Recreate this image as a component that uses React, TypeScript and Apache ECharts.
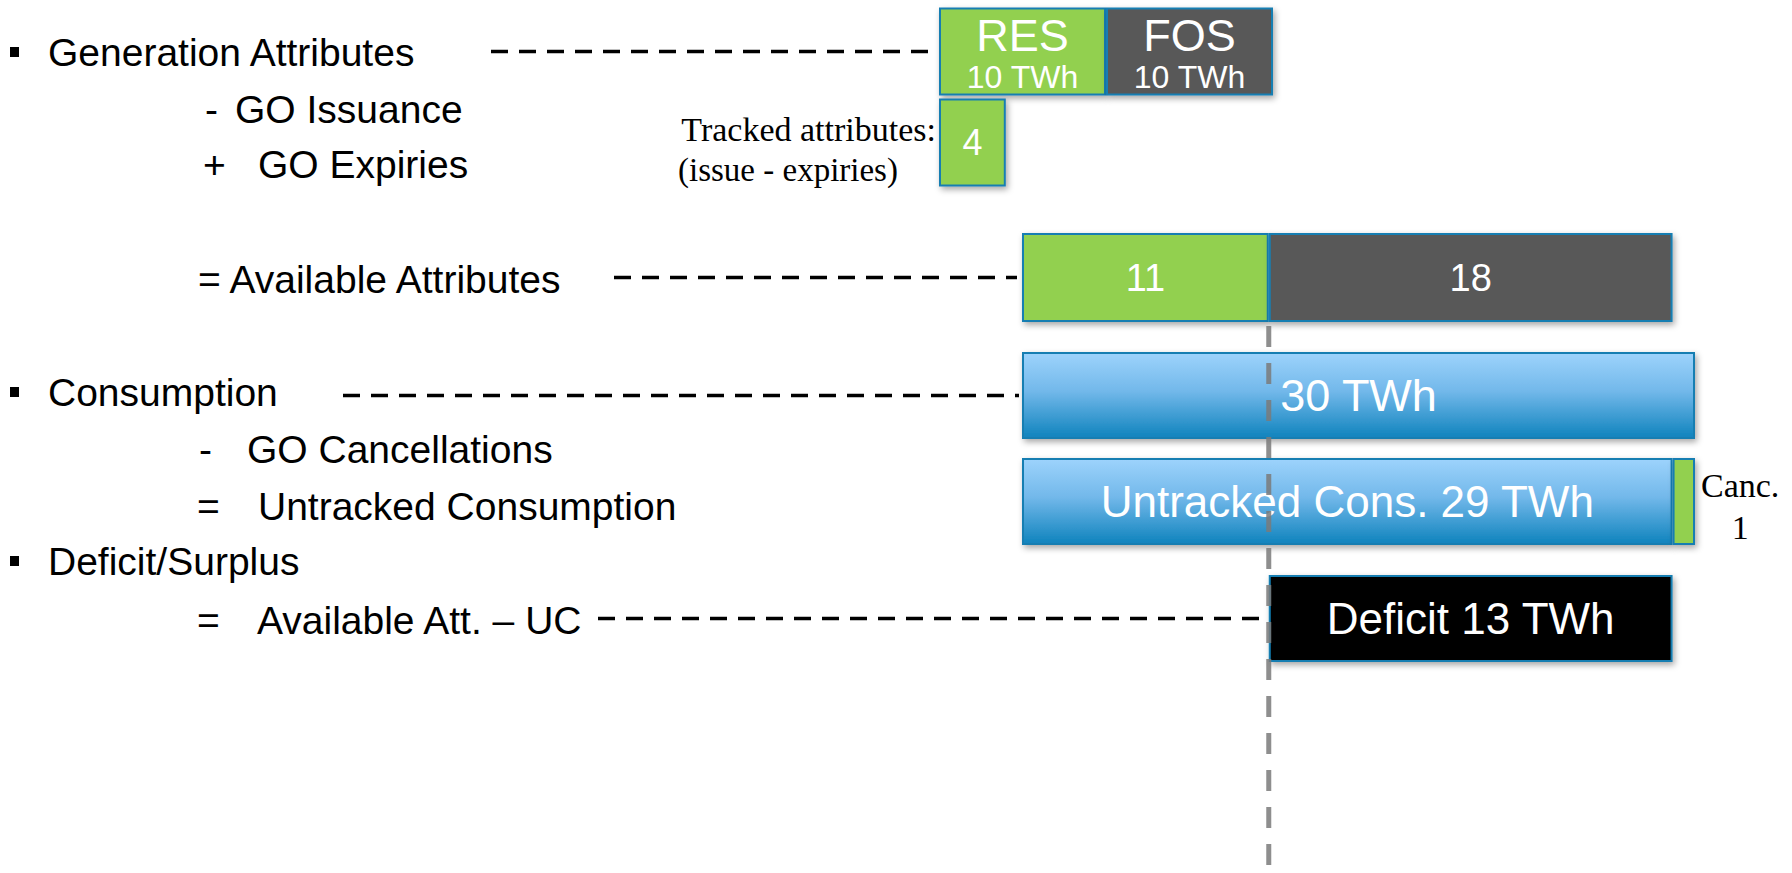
import React, { useEffect, useRef } from "react";
import * as echarts from "echarts";

// ---- data ----
const generationCategories = ["RES", "FOS"];
const generationValues = [10, 10];
const trackedValue = 4;
const availableCategories = ["RES", "FOS"];
const availableValues = [11, 18];
const consumptionValue = 30;
const untrackedValue = 29;
const cancellationValue = 1;
const deficitValue = 13;
const unit = "TWh";

// ---- left-side text (layout) ----
const leftTexts: { t: string; x: number; y: number }[] = [
  { t: "Generation Attributes", x: 48, y: 52 },
  { t: "-", x: 205, y: 109 },
  { t: "GO Issuance", x: 235, y: 109 },
  { t: "+", x: 203, y: 164 },
  { t: "GO Expiries", x: 258, y: 164 },
  { t: "= Available Attributes", x: 198, y: 279 },
  { t: "Consumption", x: 48, y: 392 },
  { t: "-", x: 199, y: 449 },
  { t: "GO Cancellations", x: 247, y: 449 },
  { t: "=", x: 197, y: 506 },
  { t: "Untracked Consumption", x: 258, y: 506 },
  { t: "Deficit/Surplus", x: 48, y: 561 },
  { t: "=", x: 197, y: 620 },
  { t: "Available Att. \u2013 UC", x: 257, y: 620 },
];
const bulletYs = [52, 392, 561];

const GREEN = "#92D050";
const GRAY = "#595959";
const EDGE = "#177EB2";
const SANS = "'Liberation Sans', Arial, sans-serif";
const SERIF = "'Liberation Serif', 'Times New Roman', serif";

const lowerRows = [
  { top: 232, h: 91 },
  { top: 351, h: 89 },
  { top: 457, h: 89 },
  { top: 574, h: 89 },
];

const shadow = {
  shadowColor: "rgba(0,0,0,0.35)",
  shadowBlur: 6,
  shadowOffsetX: 2,
  shadowOffsetY: 3,
};

export default function App() {
  const ref = useRef<HTMLDivElement>(null);
  useEffect(() => {
    if (!ref.current) return;
    const chart = echarts.init(ref.current, null, { renderer: "svg" });
    const blue = new echarts.graphic.LinearGradient(0, 0, 0, 1, [
      { offset: 0, color: "#9DD3FC" },
      { offset: 0.45, color: "#72B8EA" },
      { offset: 1, color: "#0F83BD" },
    ]);
    const whiteLabel = (size: number, fmt: any) => ({
      show: true,
      position: "inside",
      color: "#fff",
      fontFamily: SANS,
      fontSize: size,
      formatter: fmt,
    });

    const grids: any[] = [
      { left: 939, top: 6, width: 334, height: 182 },
      ...lowerRows.map((r) => ({ left: 1022, top: r.top, width: 673, height: r.h })),
    ];
    const xAxes: any[] = [
      { type: "value", gridIndex: 0, min: 0, max: generationValues[0] + generationValues[1], show: false },
      ...lowerRows.map((_, i) => ({ type: "value", gridIndex: i + 1, min: 0, max: consumptionValue, show: false })),
    ];
    const yAxes: any[] = [
      { type: "category", gridIndex: 0, data: ["Generation", "Tracked"], inverse: true, show: false },
      { type: "category", gridIndex: 1, data: ["Available"], show: false },
      { type: "category", gridIndex: 2, data: ["Consumption"], show: false },
      { type: "category", gridIndex: 3, data: ["Untracked"], show: false },
      { type: "category", gridIndex: 4, data: ["Deficit"], show: false },
    ];

    const series: any[] = [
      ...generationCategories.map((name, i) => ({
        type: "bar",
        name,
        xAxisIndex: 0,
        yAxisIndex: 0,
        stack: "gen",
        barWidth: 88,
        data: [generationValues[i], "-"],
        itemStyle: { color: i === 0 ? GREEN : GRAY, borderColor: EDGE, borderWidth: 2, ...shadow },
        label: {
          show: true,
          position: "inside",
          offset: [0, 3],
          formatter: (p: any) => `{a|${p.seriesName}}\n{b|${p.value} ${unit}}`,
          rich: {
            a: { color: "#fff", fontFamily: SANS, fontSize: 45, lineHeight: 44 },
            b: { color: "#fff", fontFamily: SANS, fontSize: 32, lineHeight: 38 },
          },
        },
      })),
      {
        type: "bar",
        name: "Tracked",
        xAxisIndex: 0,
        yAxisIndex: 0,
        stack: "gen",
        barWidth: 88,
        data: ["-", trackedValue],
        itemStyle: { color: GREEN, borderColor: EDGE, borderWidth: 2, ...shadow },
        label: whiteLabel(36, (p: any) => `${p.value}`),
      },
      ...availableCategories.map((name, i) => ({
        type: "bar",
        name: "Available " + name,
        xAxisIndex: 1,
        yAxisIndex: 1,
        stack: "avail",
        barWidth: 89,
        data: [availableValues[i]],
        itemStyle: { color: i === 0 ? GREEN : GRAY, borderColor: EDGE, borderWidth: 2, ...shadow },
        label: whiteLabel(38, (p: any) => `${p.value}`),
      })),
      {
        type: "bar",
        name: "Consumption",
        xAxisIndex: 2,
        yAxisIndex: 2,
        barWidth: 87,
        data: [consumptionValue],
        itemStyle: { color: blue, borderColor: EDGE, borderWidth: 2, ...shadow },
        label: whiteLabel(45, (p: any) => `${p.value} ${unit}`),
      },
      {
        type: "bar",
        name: "Untracked",
        xAxisIndex: 3,
        yAxisIndex: 3,
        stack: "uc",
        barWidth: 87,
        data: [untrackedValue],
        itemStyle: { color: blue, borderColor: EDGE, borderWidth: 2, ...shadow },
        label: whiteLabel(44, (p: any) => `Untracked Cons. ${p.value} ${unit}`),
      },
      {
        type: "bar",
        name: "Cancellations",
        xAxisIndex: 3,
        yAxisIndex: 3,
        stack: "uc",
        barWidth: 87,
        data: [cancellationValue],
        itemStyle: { color: GREEN, borderColor: EDGE, borderWidth: 2, ...shadow },
        label: {
          show: true,
          position: "right",
          distance: 6,
          offset: [0, 5],
          formatter: (p: any) => `{a|Canc.}\n{a|${p.value}}`,
          rich: { a: { color: "#000", fontFamily: SERIF, fontSize: 34, lineHeight: 42, align: "center" } },
        },
      },
      {
        type: "bar",
        name: "offset",
        xAxisIndex: 4,
        yAxisIndex: 4,
        stack: "def",
        barWidth: 87,
        silent: true,
        data: [availableValues[0]],
        itemStyle: { color: "transparent" },
        label: { show: false },
      },
      {
        type: "bar",
        name: "Deficit",
        xAxisIndex: 4,
        yAxisIndex: 4,
        stack: "def",
        barWidth: 87,
        data: [untrackedValue - availableValues[0]],
        itemStyle: { color: "#000", borderColor: EDGE, borderWidth: 2, ...shadow },
        label: whiteLabel(44, () => `Deficit ${deficitValue} ${unit}`),
      },
    ];

    chart.setOption({
      animation: false,
      backgroundColor: "#fff",
      grid: grids,
      xAxis: xAxes,
      yAxis: yAxes,
      series,
    });

    const px = (axis: number, v: number) => chart.convertToPixel({ xAxisIndex: axis } as any, v) as number;
    const py = (axis: number, v: string) => chart.convertToPixel({ yAxisIndex: axis } as any, v) as number;

    const dash = (x1: number, x2: number, y: number) => ({
      type: "line",
      shape: { x1, y1: y, x2, y2: y },
      style: { stroke: "#000", lineWidth: 3.5, lineDash: [17, 11] },
      z: 50,
    });

    const vx = px(1, availableValues[0]);
    const graphic: any[] = [
      dash(491, px(0, 0) - 5, py(0, "Generation")),
      dash(614, px(1, 0) - 5, py(1, "Available")),
      dash(343, px(2, 0) - 3, py(2, "Consumption")),
      dash(598, px(4, availableValues[0]) - 4, py(4, "Deficit")),
      {
        type: "line",
        shape: { x1: vx, y1: lowerRows[0].top + lowerRows[0].h + 3, x2: vx, y2: 873 },
        style: { stroke: "#7A7A7A", lineWidth: 5, lineDash: [21, 16], opacity: 0.85 },
        z: 100,
      },
      ...bulletYs.map((y) => ({
        type: "rect",
        shape: { x: 10, y: y - 5, width: 9, height: 10 },
        style: { fill: "#000" },
      })),
      ...leftTexts.map((d) => ({
        type: "text",
        x: d.x,
        y: d.y,
        style: { text: d.t, fill: "#000", font: `39px ${SANS}`, align: "left", verticalAlign: "middle" },
      })),
      {
        type: "text",
        x: 936,
        y: 129,
        style: { text: "Tracked attributes:", fill: "#000", font: `34px ${SERIF}`, align: "right", verticalAlign: "middle" },
      },
      {
        type: "text",
        x: 678,
        y: 170,
        style: { text: "(issue - expiries)", fill: "#000", font: `33px ${SERIF}`, align: "left", verticalAlign: "middle" },
      },
    ];
    chart.setOption({ graphic });

    return () => chart.dispose();
  }, []);
  return (
    <div
      ref={ref}
      style={{ position: "fixed", left: 0, top: 0, width: 1792, height: 873, background: "#fff" }}
    />
  );
}
